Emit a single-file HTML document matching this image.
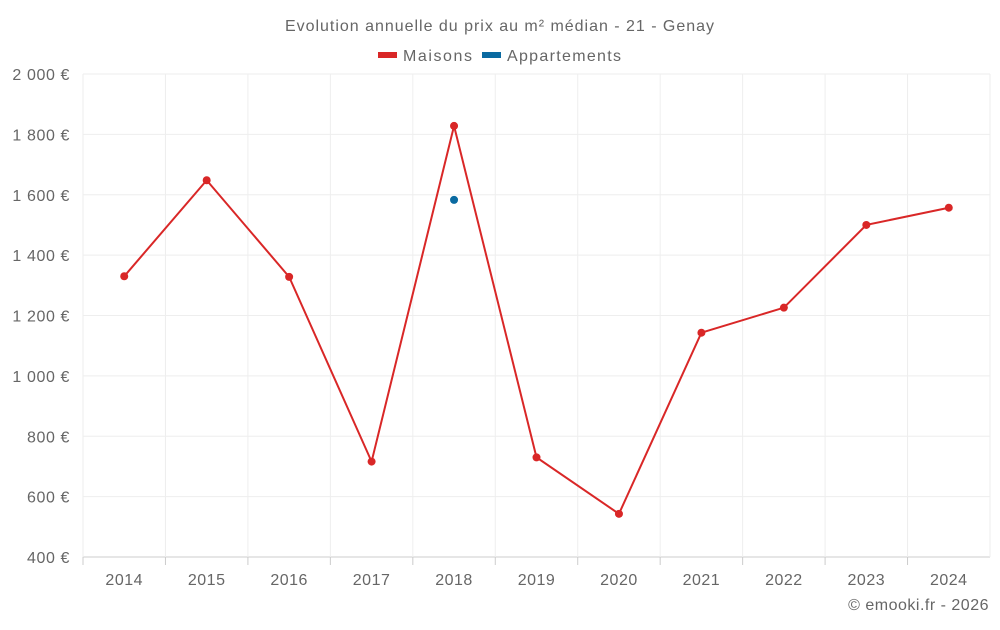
<!DOCTYPE html>
<html><head><meta charset="utf-8"><style>
body{margin:0;background:#fff;font-family:"Liberation Sans",sans-serif}
svg text{font-family:"Liberation Sans",sans-serif;fill:#666}
</style></head><body>
<svg id="c" width="1000" height="625">
<text x="285" y="31" textLength="429" lengthAdjust="spacing" font-size="16">Evolution annuelle du prix au m² médian - 21 - Genay</text>
<g>
<rect x="378" y="52" width="19" height="6" fill="#d92727"/>
<text x="403" y="61" textLength="69" lengthAdjust="spacing" font-size="16">Maisons</text>
<rect x="482" y="52" width="19" height="6" fill="#0a6aa1"/>
<text x="507" y="61" textLength="114" lengthAdjust="spacing" font-size="16">Appartements</text>
</g>
<g id="grid"></g><g id="marks"></g>
<text x="989" y="610" text-anchor="end" font-size="16" letter-spacing="0.5">© emooki.fr - 2026</text>
</svg>
<script>
const years=[2014,2015,2016,2017,2018,2019,2020,2021,2022,2023,2024];
const maisons=[1330,1648,1328,716,1828,730,543,1143,1226,1500,1557];
const appartements=[null,null,null,null,1583,null,null,null,null,null,null];
const yTicks=[400,600,800,1000,1200,1400,1600,1800,2000];
const tickLabels=["400 €","600 €","800 €","1 000 €","1 200 €","1 400 €","1 600 €","1 800 €","2 000 €"];
const L=83,R=990,T=74,B=557,ns="http://www.w3.org/2000/svg";
const bw=(R-L)/years.length;
const x=i=>L+bw*(i+0.5);
const y=v=>B-(v-400)/1600*(B-T);
const g=document.getElementById('grid'),m=document.getElementById('marks');
function mk(p,tag,a){const e=document.createElementNS(ns,tag);for(const k in a)e.setAttribute(k,a[k]);p.appendChild(e);return e;}
yTicks.forEach((v,i)=>{
 const l=mk(g,'line',{x1:L,x2:R,y1:y(v),y2:y(v),stroke:i==0?'#ccc':'#eee'});
 
 
 const t=mk(g,'text',{x:70,y:y(v)+6,'text-anchor':'end','font-size':16,'letter-spacing':0.6});t.textContent=tickLabels[i];
 
 
});
for(let i=0;i<=years.length;i++){
 const l=mk(g,'line',{x1:L+bw*i,x2:L+bw*i,y1:T,y2:B,stroke:'#eee'});
 
 
}
years.forEach((yr,i)=>{
 const tk=mk(g,'line',{x1:L+bw*i,x2:L+bw*i,y1:B,y2:B+8,stroke:'#ccc'});
 
 
 const t=mk(g,'text',{x:x(i),y:585,'text-anchor':'middle','font-size':16,'letter-spacing':0.5});t.textContent=yr;
 
 
});
const pl=mk(m,'polyline',{points:maisons.map((v,i)=>x(i)+','+y(v)).join(' '),fill:'none',stroke:'#d92727','stroke-width':2});


maisons.forEach((v,i)=>{
 const c=mk(m,'circle',{cx:x(i),cy:y(v),r:4,fill:'#d92727'});
 
 
});
appartements.forEach((v,i)=>{if(v==null)return;
 const c=mk(m,'circle',{cx:x(i),cy:y(v),r:4,fill:'#0a6aa1'});
 
 
});
</script>
</body></html>
